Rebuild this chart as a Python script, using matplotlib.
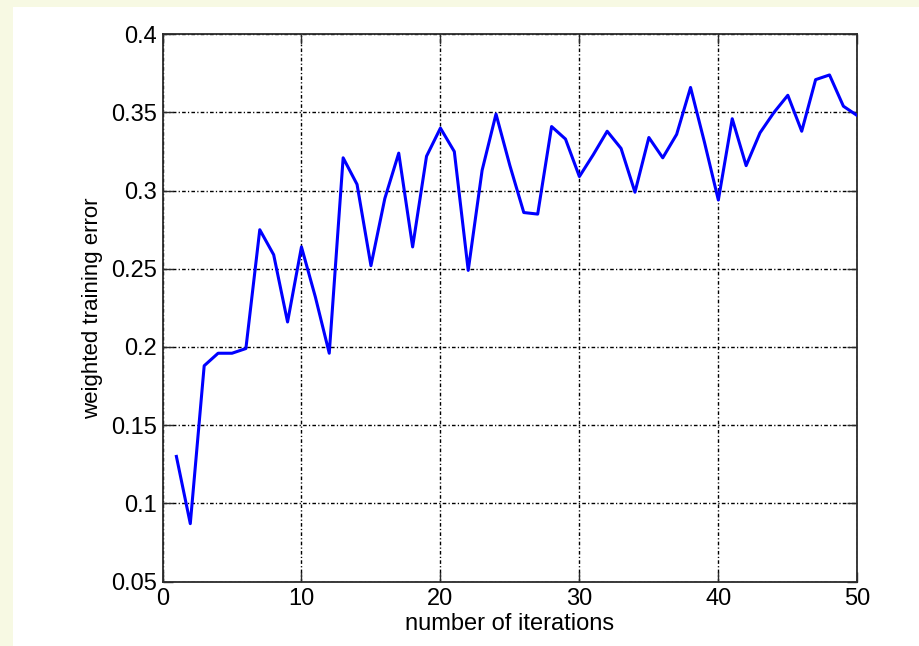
import matplotlib
matplotlib.use("Agg")
import matplotlib.pyplot as plt
from matplotlib.patches import Rectangle

iterations = list(range(1, 51))
weighted_error = [
    0.130, 0.087, 0.188, 0.196, 0.196, 0.199, 0.275, 0.259, 0.216, 0.264,
    0.232, 0.196, 0.321, 0.304, 0.252, 0.295, 0.324, 0.264, 0.322, 0.340,
    0.325, 0.249, 0.313, 0.349, 0.316, 0.286, 0.285, 0.341, 0.333, 0.309,
    0.323, 0.338, 0.327, 0.299, 0.334, 0.321, 0.336, 0.366, 0.331, 0.294,
    0.346, 0.316, 0.337, 0.350, 0.361, 0.338, 0.371, 0.374, 0.354, 0.348,
]
xticks = [0, 10, 20, 30, 40, 50]
yticks = [0.05, 0.1, 0.15, 0.2, 0.25, 0.3, 0.35, 0.4]
ytick_labels = ["0.05", "0.1", "0.15", "0.2", "0.25", "0.3", "0.35", "0.4"]

plt.rcParams['font.family'] = ['Liberation Sans', 'DejaVu Sans']
plt.rcParams['lines.scale_dashes'] = False

W, H = 920, 646
fig = plt.figure(figsize=(W / 100, H / 100), dpi=100, facecolor='white')
cream = '#f7f9e3'
fig.patches.append(Rectangle((0, 1 - 7 / H), 1, 7 / H, transform=fig.transFigure,
                             facecolor=cream, edgecolor='none', zorder=-10))
fig.patches.append(Rectangle((0, 0), 13 / W, 1, transform=fig.transFigure,
                             facecolor=cream, edgecolor='none', zorder=-10))

left, right = 162.5 / W, 857.3 / W
bottom, top = 1 - 581.5 / H, 1 - 34.3 / H
ax = fig.add_axes([left, bottom, right - left, top - bottom])

ax.plot(iterations, weighted_error, color='#0000ff', linewidth=2.2, zorder=3)

ax.set_xlim(0, 50)
ax.set_ylim(0.05, 0.4)
ax.set_xticks(xticks)
ax.set_yticks(yticks)
ax.set_yticklabels(ytick_labels)

ax.grid(True, color='black', linewidth=1.0, linestyle=(0, (2.6, 1.6, 0.9, 1.6)))
ax.set_axisbelow(True)

for s in ax.spines.values():
    s.set_color('#2a2a2a')
    s.set_linewidth(1.3)

ax.tick_params(direction='in', length=7, width=1.0, top=True, right=True,
               labelsize=17, color='#2a2a2a')
ax.tick_params(axis='x', pad=5)
ax.tick_params(axis='y', pad=4)

ax.set_xlabel('number of iterations', fontsize=17, labelpad=2)
ax.set_ylabel('weighted training error', fontsize=16, labelpad=6)

fig.savefig('out.png', dpi=100, facecolor=fig.get_facecolor())
